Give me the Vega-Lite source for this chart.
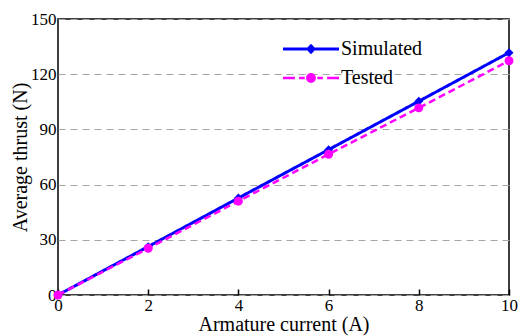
{
  "$schema": "https://vega.github.io/schema/vega-lite/v6.json",
  "width": 451,
  "height": 276,
  "autosize": {"type": "none"},
  "padding": {"left": 58, "top": 19, "right": 16, "bottom": 41},
  "background": "white",
  "config": {
    "font": "Liberation Serif",
    "view": {"stroke": "black", "strokeWidth": 1.5},
    "axis": {"labelFont": "Liberation Serif", "titleFont": "Liberation Serif", "labelColor": "black", "titleColor": "black", "titleFontWeight": "normal"},
    "legend": {
      "title": null, "orient": "none", "labelFontSize": 20, "labelFont": "Liberation Serif", "labelColor": "black",
      "symbolSize": 196, "labelOffset": 20, "padding": 0, "symbolStrokeWidth": 0, "symbolOpacity": 1
    }
  },
  "data": {
    "values": [
      {"current": 0, "thrust": 0, "series": "Simulated"},
      {"current": 2, "thrust": 26.3, "series": "Simulated"},
      {"current": 4, "thrust": 52.7, "series": "Simulated"},
      {"current": 6, "thrust": 79, "series": "Simulated"},
      {"current": 8, "thrust": 105.3, "series": "Simulated"},
      {"current": 10, "thrust": 131.7, "series": "Simulated"},
      {"current": 0, "thrust": 0, "series": "Tested"},
      {"current": 2, "thrust": 25.4, "series": "Tested"},
      {"current": 4, "thrust": 51, "series": "Tested"},
      {"current": 6, "thrust": 76.5, "series": "Tested"},
      {"current": 8, "thrust": 101.7, "series": "Tested"},
      {"current": 10, "thrust": 127.3, "series": "Tested"}
    ]
  },
  "encoding": {
    "x": {
      "field": "current", "type": "quantitative",
      "scale": {"domain": [0, 10], "nice": false, "zero": false},
      "axis": {
        "values": [0, 2, 4, 6, 8, 10], "title": "Armature current (A)",
        "domain": false, "grid": false, "tickSize": -6, "tickColor": "black", "tickWidth": 1.5,
        "labelPadding": 8, "labelFontSize": 17, "titleFontSize": 20,
        "titleY": 19, "titleBaseline": "top",
        "labelFlush": false
      }
    },
    "y": {
      "field": "thrust", "type": "quantitative",
      "scale": {"domain": [0, 150], "nice": false},
      "axis": {
        "values": [0, 30, 60, 90, 120, 150], "title": "Average thrust (N)",
        "domain": false, "ticks": false, "grid": true, "gridDash": [7, 5], "gridColor": "#a6a6a6", "gridWidth": 1.2,
        "labelPadding": 2, "labelFontSize": 17, "titleFontSize": 20, "titlePadding": 0
      }
    }
  },
  "resolve": {"scale": {"shape": "independent"}, "legend": {"shape": "independent"}},
  "layer": [
    {
      "mark": {"type": "line", "clip": false},
      "encoding": {
        "color": {
          "field": "series", "type": "nominal",
          "scale": {"domain": ["Simulated", "Tested"], "range": ["#0000ff", "#ff00ff"]},
          "legend": null
        },
        "strokeDash": {
          "field": "series", "type": "nominal",
          "scale": {"domain": ["Simulated", "Tested"], "range": [[1, 0], [7, 4]]},
          "legend": null
        },
        "strokeWidth": {
          "field": "series", "type": "nominal",
          "scale": {"domain": ["Simulated", "Tested"], "range": [3, 2.5]},
          "legend": null
        }
      }
    },
    {
      "mark": {"type": "point", "filled": true, "opacity": 1, "clip": false},
      "encoding": {
        "color": {
          "field": "series", "type": "nominal",
          "scale": {"domain": ["Simulated", "Tested"], "range": ["#0000ff", "#ff00ff"]},
          "legend": null
        },
        "shape": {
          "field": "series", "type": "nominal",
          "scale": {"domain": ["Simulated", "Tested"], "range": ["diamond", "circle"]},
          "legend": null
        },
        "size": {
          "field": "series", "type": "nominal",
          "scale": {"domain": ["Simulated", "Tested"], "range": [80, 80]},
          "legend": null
        }
      }
    },
    {
      "transform": [{"filter": "datum.current > 100"}],
      "mark": {"type": "point", "filled": true, "opacity": 1, "color": "#0000ff"},
      "encoding": {
        "shape": {
          "field": "series", "type": "nominal",
          "scale": {"domain": ["Simulated"], "range": ["M-4,-0.21H4V0.21H-4ZM-0.72,0L0,-0.75L0.72,0L0,0.75Z"]},
          "legend": {"legendX": 243, "legendY": 20, "symbolFillColor": "#0000ff", "symbolStrokeColor": "#0000ff"}
        }
      }
    },
    {
      "transform": [{"filter": "datum.current > 100"}],
      "mark": {"type": "point", "filled": true, "opacity": 1, "color": "#ff00ff"},
      "encoding": {
        "shape": {
          "field": "series", "type": "nominal",
          "scale": {"domain": ["Tested"], "range": ["M-4,-0.18H-2.3V0.18H-4ZM-1.7,-0.18H-0.9V0.18H-1.7ZM0.9,-0.18H1.7V0.18H0.9ZM2.3,-0.18H4V0.18H2.3ZM0.7,0A0.7,0.7,0,1,1,-0.7,0A0.7,0.7,0,1,1,0.7,0Z"]},
          "legend": {"legendX": 243, "legendY": 49, "symbolFillColor": "#ff00ff", "symbolStrokeColor": "#ff00ff"}
        }
      }
    }
  ]
}
